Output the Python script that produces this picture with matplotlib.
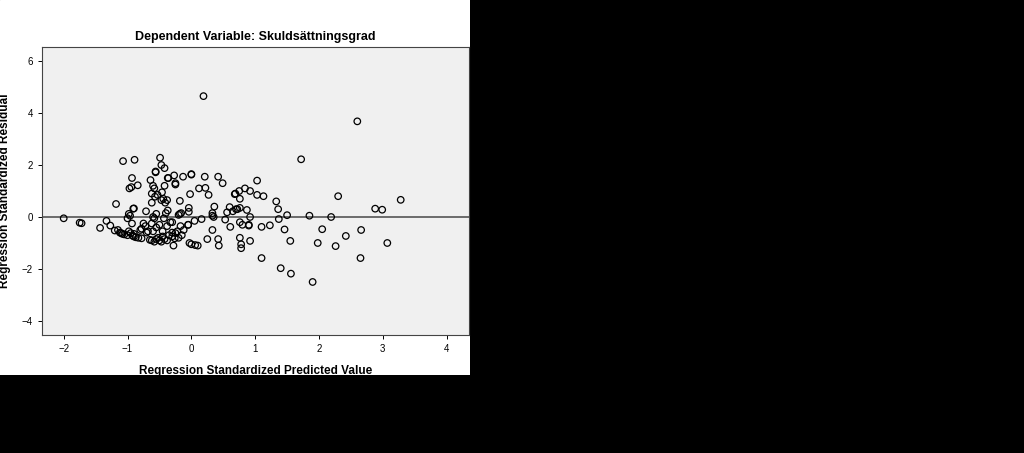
import matplotlib
matplotlib.use("Agg")
import matplotlib.pyplot as plt

plt.rcParams['font.family'] = ['Liberation Sans', 'DejaVu Sans']

predicted = [-2.0, -1.75, -1.72, -1.43, -1.33, -1.27, -1.2, -1.15, -1.12, -1.1, -1.05, -1.0, -0.98, -0.95,
             -0.92, -0.9, -0.87, -0.83, -0.78, -0.8, -0.75, -0.72, -0.68, -0.65, -0.62, -0.58, -0.55, -0.52,
             -0.5, -0.47, -0.45, -0.42, -0.38, -0.35, -0.3, -0.28, -0.25, -0.22, -0.2, -0.15, -0.05,
             -1.07, -0.89, -0.93, -0.97, -0.94, -0.84, -1.18, -0.9, -0.91, -0.98, -1.0, -0.96, -0.93, -0.71,
             -0.64, -0.6, -0.58, -0.56, -0.56, -0.62, -0.57, -0.53, -0.62, -0.49, -0.47, -0.42, -0.37, -0.36,
             -0.42, -0.46, -0.44, -0.47, -0.41, -0.38, -0.37, -0.4, -0.43, -0.55, -0.6, -0.58, -0.62, -0.5,
             -0.38, -0.33, -0.3, -0.27, -0.25, -0.25, -0.18, -0.2, -0.18, -0.16, -0.13, 0.0, 0.0, -0.02,
             -0.04, -0.04, -0.05, -0.03, 0.0, 0.05, 0.06, 0.1, 0.12, 0.16, 0.19, 0.21, 0.22, 0.27, 0.25,
             0.33, 0.33, 0.35, 0.36, 0.33, 0.42, 0.42, 0.43, 0.49, 0.53, 0.56, 0.6, 0.61, 0.65, 0.68, 0.69,
             0.7, 0.72, 0.75, 0.76, 0.76, 0.76, 0.76, 0.78, 0.78, 0.8, 0.84, 0.87, 0.9, 0.9, 0.92, 0.92,
             0.92, 1.03, 1.03, 1.1, 1.1, 1.13, 1.23, 1.33, 1.36, 1.37, 1.4, 1.46, 1.5, 1.55, 1.56, 1.72,
             1.85, 1.9, 1.98, 2.05, 2.19, 2.26, 2.3, 2.42, 2.6, 2.65, 2.66, 2.88, 2.99, 3.07, 3.28,
             -0.6, -0.55, -0.45, -0.3, -0.26, -0.17, -0.12, -0.7, -0.78, -1.08, -0.9]
residual = [-0.05, -0.22, -0.24, -0.42, -0.15, -0.33, -0.52, -0.5, -0.6, -0.62, -0.67, -0.7, -0.55, -0.62,
            -0.72, -0.75, -0.78, -0.8, -0.82, -0.5, -0.25, -0.35, -0.55, -0.88, -0.9, -0.95, -0.85, -0.8,
            -0.9, -0.95, -0.75, -0.85, -0.9, -0.7, -0.75, -1.1, -0.62, -0.55, -0.8, -0.7, -0.3,
            2.15, 2.2, 1.5, 1.1, 1.15, 1.22, 0.5, 0.33, 0.32, 0.12, -0.05, 0.05, -0.25, 0.22,
            1.42, 1.2, 1.1, 1.75, 1.72, 0.9, 0.78, 0.85, 0.55, 2.28, 2.0, 1.88, 1.5, 1.5,
            1.2, 0.95, 0.7, 0.65, 0.55, 0.65, 0.25, 0.15, -0.05, 0.12, 0.0, -0.05, -0.25, -0.3,
            -0.35, -0.2, -0.2, 1.6, 1.3, 1.25, 0.62, 0.08, 0.12, 0.15, 1.55, 1.65, 1.63, 0.88,
            0.35, 0.2, -0.3, -1.0, -1.05, -0.15, -1.08, -1.1, 1.1, -0.08, 4.65, 1.55, 1.12, 0.85, -0.85,
            0.15, 0.05, 0.0, 0.4, -0.5, 1.55, -0.85, -1.1, 1.3, -0.1, 0.18, 0.38, -0.38, 0.22, 0.88, 0.9,
            0.3, 0.3, 1.0, 0.7, 0.35, -0.2, -0.8, -1.05, -1.2, -0.3, 1.1, 0.27, -0.3, -0.33, 1.0, 0.0,
            -0.92, 1.4, 0.85, -0.38, -1.58, 0.8, -0.32, 0.6, 0.3, -0.08, -1.97, -0.48, 0.07, -0.92, -2.18, 2.22,
            0.05, -2.5, -1.0, -0.47, 0.0, -1.12, 0.8, -0.73, 3.68, -1.58, -0.5, 0.32, 0.28, -1.0, 0.66,
            -0.55, -0.4, -0.55, -0.6, -0.82, -0.35, -0.5, -0.6, -0.45, -0.65, -0.65]

x_ticks = [-2, -1, 0, 1, 2, 3, 4]
y_ticks = [-4, -2, 0, 2, 4, 6]

fig = plt.figure(figsize=(10.24, 4.53), dpi=100, facecolor='black')
# white panel behind the chart
bg = fig.add_axes([0, 1 - 375 / 453, 470 / 1024, 375 / 453])
bg.set_facecolor('white')
bg.axis('off')
bg.add_patch(plt.Rectangle((0, 0), 1, 1, transform=bg.transAxes, color='white'))
bg.set_zorder(0)

ax = fig.add_axes([42 / 1024, 118 / 453, 427 / 1024, 288 / 453])
ax.set_zorder(1)
ax.set_facecolor('#f0f0f0')
ax.scatter(predicted, residual, s=22, facecolors='none', edgecolors='black', linewidths=0.9, zorder=3)
ax.axhline(0, color='#555555', lw=1.2, zorder=2)
ax.set_xlim(-2.34, 4.35)
ax.set_ylim(-4.54, 6.54)
ax.set_xticks(x_ticks)
ax.set_yticks(y_ticks)
ax.tick_params(labelsize=7, length=3, width=0.7)
for s in ax.spines.values():
    s.set_color('#444444')
ax.set_title('Dependent Variable: Skuldsättningsgrad', fontsize=9, fontweight='bold', pad=5)
ax.set_xlabel('Regression Standardized Predicted Value', fontsize=8.5, fontweight='bold', labelpad=8)
ax.set_ylabel('Regression Standardized Residual', fontsize=8.5, fontweight='bold', labelpad=8)
fig.savefig('out.png', dpi=100, facecolor='black')
